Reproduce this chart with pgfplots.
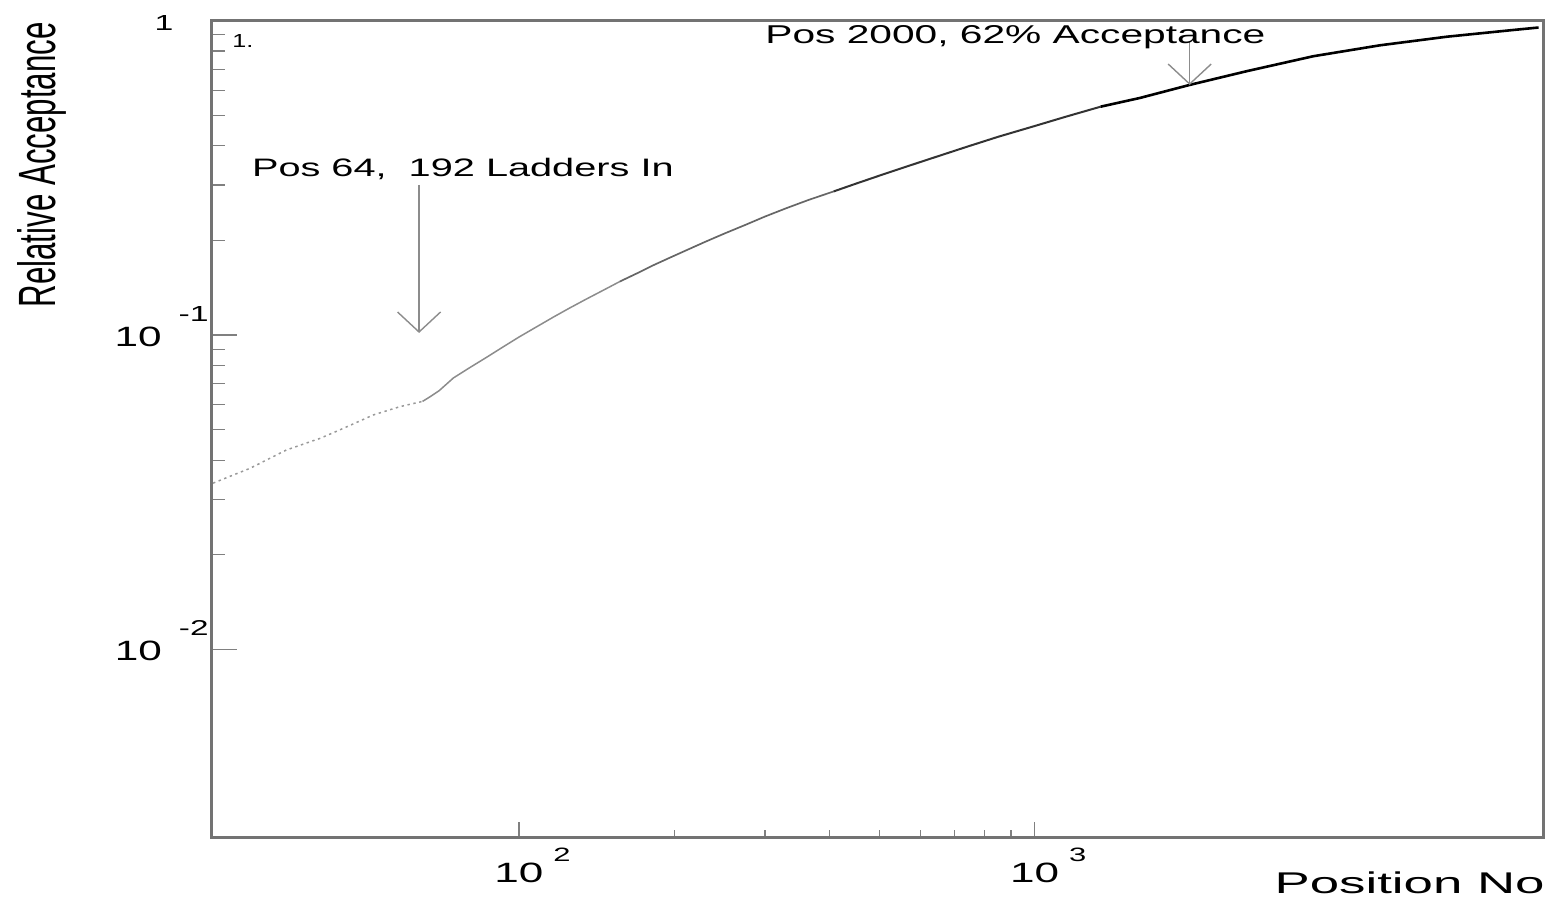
\documentclass[border=0pt]{standalone}
\usepackage{pgfplots}
\pgfplotsset{compat=1.18}
\usepackage{fontspec}
\setmainfont{Liberation Sans}
\usetikzlibrary{arrows.meta}
\usepackage{graphicx}

\newcommand\ypow[1]{\resizebox{23.5pt}{9.75pt}{10}\hspace{8.5pt}\raisebox{12.5pt}{\scalebox{1.55}[1]{\resizebox{!}{7.5pt}{-#1}}}}
\newcommand\yone{\makebox[27pt][l]{\raisebox{1pt}{\scalebox{1.55}[1]{\resizebox{!}{7.5pt}{1}}}}}
\newcommand\xpow[1]{\resizebox{24.5pt}{9.75pt}{10}\rlap{\hspace{5pt}\raisebox{10.85pt}{\scalebox{1.6}[1]{\resizebox{!}{6.75pt}{#1}}}}}

\begin{document}
\begin{tikzpicture}
\begin{axis}[
  scale only axis,
  width=665.65pt, height=408.4pt,
  xmode=log, ymode=log,
  xmin=25.35, xmax=9692,
  ymin=0.002528, ymax=1,
  axis line style={black!55, line width=1.5pt},
  tick align=inside,
  xtick pos=left, ytick pos=left,
  tick style={black!50, line width=0.6pt},
  xtick style={/pgfplots/major tick length=7.5pt, /pgfplots/minor tick length=3.85pt},
  ytick style={/pgfplots/major tick length=12.85pt, /pgfplots/minor tick length=6.65pt},
  xtick={100,1000},
  xticklabels={\xpow{2},\xpow{3}},
  ytick={0.01,0.1,1},
  yticklabels={\ypow{2},\ypow{1},\yone},
  xticklabel style={anchor=base, inner sep=0pt, yshift=-22.7pt},
  yticklabel style={anchor=base east, inner sep=0pt, xshift=-1.35pt, yshift=-5.75pt},
  xlabel={\resizebox{135pt}{10.85pt}{Position No}},
  xlabel style={at={(rel axis cs:1.0015,-0.0686)}, anchor=base east, inner sep=0pt},
  ylabel={\resizebox{142.5pt}{19pt}{Relative Acceptance}},
  ylabel style={at={(rel axis cs:-0.1177,0.9982)}, anchor=base east, inner sep=0pt},
  clip=false,
]
% left part, dotted
\addplot[black!40, line width=0.75pt, dash pattern=on 1.2pt off 1.8pt] coordinates {
(25.5,0.0338) (30.1,0.0377) (35.4,0.0431) (41.1,0.0469) (44.9,0.0499)
(52.2,0.0557) (58.8,0.0592) (65,0.0615)
};
\addplot[black!45, line width=0.75pt] coordinates {
(65,0.0615) (67.2,0.0636) (70,0.0665) (74.6,0.0730) (80,0.0785) (86.6,0.0850)
(93,0.0915) (100,0.0985) (108,0.1060) (116.6,0.1140) (125,0.1215) (135,0.1300)
(146,0.1390) (157,0.1480)
};
\addplot[black!60, line width=0.85pt] coordinates {
(157,0.1480) (170,0.1575) (182,0.1665) (196,0.1760) (212,0.1865) (230,0.1980)
(250,0.2100) (275,0.2240) (300,0.2380) (330,0.2530) (365,0.2690) (408,0.2862)
};
\addplot[black!80, line width=1pt] coordinates {
(408,0.2862) (450,0.3027) (500,0.3211) (549,0.3380) (620,0.3610) (740,0.3970)
(850,0.4268) (997,0.4610) (1150,0.4944) (1343,0.5320)
};
\addplot[black, line width=1.3pt] coordinates {
(1343,0.5320) (1600,0.5670) (2000,0.6240) (2580,0.6900) (3474,0.7700)
(4679,0.8340) (6303,0.8880) (8489,0.9330) (9500,0.9500)
};
% annotations
\draw[black!45, line width=0.7pt, -{Straight Barb[length=10pt, width=21.5pt]}]
  (axis cs:64,0.2999) -- (axis cs:64,0.1015);
\draw[black!45, line width=0.7pt, -{Straight Barb[length=10pt, width=21.5pt]}]
  (axis cs:2000,0.856) -- (axis cs:2000,0.6237);
\node[anchor=base west, inner sep=0pt] at (axis cs:30.30,0.3187)
  {\resizebox{210.8pt}{9.15pt}{Pos 64,\ \ 192 Ladders In}};
\node[anchor=base west, inner sep=0pt] at (axis cs:300.1,0.8465)
  {\resizebox{250pt}{9pt}{Pos 2000, 62\% Acceptance}};
\node[anchor=base west, inner sep=0pt] at (axis cs:27.76,0.8177)
  {\resizebox{10.5pt}{6.5pt}{1.}};
\coordinate (bl) at (rel axis cs:0,0);
\end{axis}
\pgfresetboundingbox
\path[use as bounding box] ([shift={(-105.85pt,-35.85pt)}]bl) rectangle ++(776pt,454.5pt);
\end{tikzpicture}
\end{document}
